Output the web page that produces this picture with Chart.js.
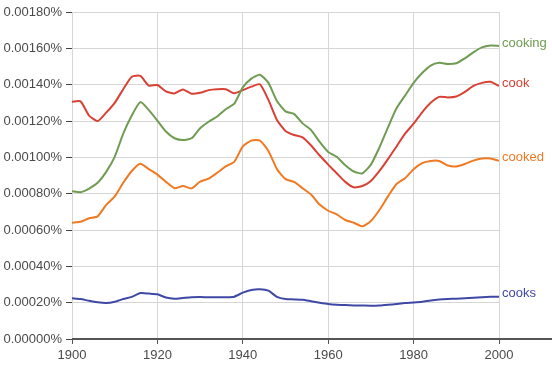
<!DOCTYPE html>
<html>
<head>
<meta charset="utf-8">
<script src="https://cdn.jsdelivr.net/npm/chart.js@4"></script>
<style>
  html, body { margin: 0; padding: 0; background: #fff; }
  #wrap { width: 552px; height: 365px; }
</style>
</head>
<body>
<div id="wrap"><canvas id="ngramChart"></canvas></div>
<script>
// Values are in units of 0.00001 % (so 130 = 0.00130%)
const years = [];
for (let y = 1900; y <= 2000; y += 2) years.push(y);

const cooking = [81.4, 80.8, 82.8, 86, 92, 100.3, 113, 123, 130.4, 126,
  120.2, 114.2, 110.5, 109.5, 110.5, 116, 119.6, 122.5, 126.5, 129.5,
  138.5, 143.3, 145.5, 141, 131, 125.3, 123.9, 118.7, 115, 108.5,
  103, 100.3, 95.6, 92.2, 91.2, 96, 105.5, 116.5, 127, 134,
  141, 146.4, 150.5, 152, 151.4, 151.8, 154.5, 157.8, 160.5, 161.5, 161.3];

const cook = [130.6, 130.8, 123, 120, 124.6, 130, 137.5, 144.4, 144.8, 139.5,
  139.8, 136.3, 135.2, 137.4, 135, 135.5, 137, 137.5, 137.5, 135.3,
  137, 138.9, 140.2, 131.6, 120.6, 114.5, 112.3, 111, 106.5, 101,
  96, 91.2, 86.5, 83.5, 84.2, 87, 92.5, 99, 106, 113,
  118.5, 124.8, 130, 133.3, 133, 133.5, 136, 139.3, 141, 141.6, 139.3];

const cooked = [64, 64.5, 66.5, 67.5, 73.8, 78.5, 86, 92.5, 96.5, 93.5,
  90.5, 86.5, 83, 84.2, 82.9, 86.6, 88.3, 91.5, 95, 97.5,
  106, 109.2, 109.2, 103.5, 93.5, 88, 86.5, 83, 79.5, 74,
  70.6, 68.6, 65.5, 64, 62, 65, 71, 78.5, 85.3, 88.5,
  93.5, 96.8, 98, 98, 95.5, 95, 96.3, 98.2, 99.3, 99.3, 98.1];

const cooks = [22.4, 22, 21, 20.2, 19.8, 20.5, 22, 23.2, 25.3, 25,
  24.6, 22.8, 22.2, 22.6, 23, 23.1, 23, 23, 23, 23.3,
  25.5, 27, 27.4, 26.6, 23.2, 22, 21.8, 21.6, 20.8, 20,
  19.3, 18.9, 18.7, 18.5, 18.4, 18.3, 18.4, 18.8, 19.3, 19.8,
  20.1, 20.5, 21.2, 21.7, 22, 22.2, 22.4, 22.7, 23, 23.2, 23.3];

const seriesNames = ['cooking', 'cook', 'cooked', 'cooks'];
const seriesColors = ['#6f9c52', '#d84135', '#f07a23', '#4048a6'];
const yTickLabels = ['0.00000%', '0.00020%', '0.00040%', '0.00060%', '0.00080%',
  '0.00100%', '0.00120%', '0.00140%', '0.00160%', '0.00180%'];
const xTickLabels = ['1900', '1920', '1940', '1960', '1980', '2000'];

const FONT = { family: 'Arial, "Liberation Sans", sans-serif', size: 13 };

// Series name drawn to the right of each line's last point
const endLabels = {
    id: 'endLabels',
    afterDatasetsDraw(chart) {
        const ctx = chart.ctx;
        const yScale = chart.scales.y;
        ctx.save();
        ctx.font = '13px Arial, "Liberation Sans", sans-serif';
        ctx.textBaseline = 'middle';
        ctx.textAlign = 'left';
        chart.data.datasets.forEach(ds => {
            const last = ds.data[ds.data.length - 1];
            ctx.fillStyle = ds.borderColor;
            ctx.fillText(ds.label, chart.chartArea.right + 3, yScale.getPixelForValue(last.y) - 3);
        });
        ctx.restore();
    }
};

// Dark base line that runs past the plot to the page edge
const baseLine = {
    id: 'baseLine',
    afterDraw(chart) {
        const ctx = chart.ctx;
        const y = chart.chartArea.bottom;
        ctx.save();
        ctx.strokeStyle = '#555';
        ctx.lineWidth = 2;
        ctx.beginPath();
        ctx.moveTo(chart.chartArea.left, y);
        ctx.lineTo(chart.width, y);
        ctx.stroke();
        ctx.restore();
    }
};

const datasets = [cooking, cook, cooked, cooks].map((vals, i) => ({
    label: seriesNames[i],
    data: vals.map((v, j) => ({ x: years[j], y: v })),
    borderColor: seriesColors[i],
    backgroundColor: seriesColors[i],
    borderWidth: 2,
    pointRadius: 0,
    tension: 0.2,
    fill: false
}));

new Chart(document.getElementById('ngramChart'), {
    type: 'line',
    data: { datasets },
    options: {
        responsive: true,
        maintainAspectRatio: false,
        animation: false,
        layout: { padding: { top: 12, right: 53, left: 0, bottom: 0 } },
        plugins: {
            legend: { display: false },
            tooltip: { enabled: false }
        },
        scales: {
            x: {
                type: 'linear',
                min: 1900,
                max: 2000,
                border: { display: false },
                grid: { color: '#d6d6d6', lineWidth: 1, tickColor: '#555', tickLength: 5 },
                ticks: {
                    stepSize: 20,
                    color: '#4a4a4a',
                    font: FONT,
                    padding: 4,
                    maxRotation: 0,
                    callback: (v, i) => xTickLabels[i]
                },
                afterFit: s => { s.height = 26; }
            },
            y: {
                min: 0,
                max: 180,
                border: { display: false },
                grid: { color: '#d6d6d6', lineWidth: 1, tickColor: '#444', tickLength: 6 },
                ticks: {
                    stepSize: 20,
                    color: '#4a4a4a',
                    font: FONT,
                    padding: 4,
                    callback: (v, i) => yTickLabels[i]
                },
                afterFit: s => { s.width = 72; }
            }
        }
    },
    plugins: [endLabels, baseLine]
});
</script>
</body>
</html>
